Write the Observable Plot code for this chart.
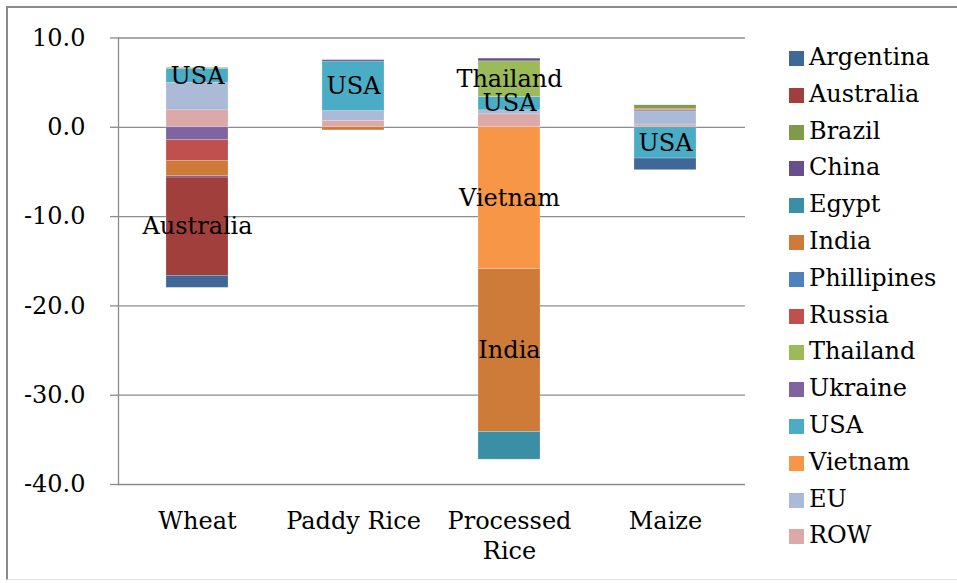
<!DOCTYPE html>
<html>
<head>
<meta charset="utf-8">
<script src="https://cdn.jsdelivr.net/npm/d3@7"></script>
<script src="https://cdn.jsdelivr.net/npm/@observablehq/plot@0.6"></script>
<style>
  html, body { margin: 0; padding: 0; background: #fff; }
  #wrap { position: relative; width: 957px; height: 583px; overflow: hidden; font-family: "DejaVu Serif", serif; }
  #border { position: absolute; left: 6px; top: 6px; width: 1000px; height: 574px; border-top: 2px solid #8a8a8a; border-left: 2px solid #8a8a8a; border-bottom: 1px solid #e0e0e0; box-sizing: border-box; }
  #chart { position: absolute; left: 0; top: 0; }
  #legend { position: absolute; left: 789px; top: 39px; }
  .row { height: 36.8px; line-height: 36.8px; font-size: 24px; color: #000; white-space: nowrap; }
  .sw { display: inline-block; width: 15px; height: 15px; margin-right: 5px; vertical-align: -1px; }
</style>
</head>
<body>
<div id="wrap">
  <div id="border"></div>
  <div id="chart"></div>
  <div id="legend"></div>
</div>
<script>
const categories = ["Wheat", "Paddy Rice", "Processed Rice", "Maize"];
const tickLabels = ["Wheat", "Paddy Rice", "Processed\nRice", "Maize"];
const countries = ["Argentina", "Australia", "Brazil", "China", "Egypt", "India", "Phillipines", "Russia", "Thailand", "Ukraine", "USA", "Vietnam", "EU", "ROW"];
const colors = ["#3F6797", "#A13F3D", "#7F9A48", "#694F8A", "#3A8FA5", "#CE7A38", "#4F81BD", "#C0504D", "#9BBB59", "#8064A2", "#4BACC6", "#F79646", "#AABAD7", "#DBA9A8"];

// values per country: [Wheat, Paddy Rice, Processed Rice, Maize]
const Argentina   = [-1.35, 0, 0, -1.3];
const Australia   = [-11.0, 0, 0, 0];
const Brazil      = [0.1, 0, 0, 0.37];
const China       = [-0.15, 0.15, 0.3, 0];
const Egypt       = [0, 0, -3.1, 0];
const India       = [-1.68, -0.35, -18.25, 0.15];
const Phillipines = [0, 0, 0, 0];
const Russia      = [-2.35, 0, 0, 0];
const Thailand    = [0, 0, 4.0, 0];
const Ukraine     = [-1.45, 0, 0, 0.15];
const USA         = [1.56, 5.55, 1.49, -3.5];
const Vietnam     = [0, 0, -15.87, 0];
const EU          = [3.08, 1.12, 0.45, 1.49];
const ROW         = [1.9, 0.7, 1.45, 0.3];

const yTicks = [10, 0, -10, -20, -30, -40];

const labelled = [
  ["Wheat", "USA"], ["Wheat", "Australia"],
  ["Paddy Rice", "USA"],
  ["Processed Rice", "Thailand"], ["Processed Rice", "USA"], ["Processed Rice", "Vietnam"], ["Processed Rice", "India"],
  ["Maize", "USA"]
];

const series = {Argentina, Australia, Brazil, China, Egypt, India, Phillipines, Russia, Thailand, Ukraine, USA, Vietnam, EU, ROW};
const labelSet = new Set(labelled.map(([c, k]) => c + "|" + k));

// Stack order: last series nearest the zero line (as in the source chart)
const data = [];
categories.forEach((cat, i) => {
  countries.slice().reverse().forEach(k => {
    data.push({category: cat, country: k, value: series[k][i]});
  });
});

const chart = Plot.plot({
  width: 957,
  height: 583,
  marginLeft: 118,
  marginRight: 212,
  marginTop: 37.5,
  marginBottom: 99,
  style: {fontFamily: "DejaVu Serif", fontSize: "24px", color: "#000", background: "transparent", overflow: "visible"},
  x: {domain: categories, paddingInner: 0.6, paddingOuter: 0.3, label: null},
  y: {domain: [-40, 10], label: null},
  color: {domain: countries, range: colors},
  marks: [
    Plot.gridY(yTicks, {stroke: "#8c8c8c", strokeOpacity: 1, strokeWidth: 1.3}),
    Plot.frame({anchor: "left", stroke: "#8c8c8c", strokeWidth: 1.3}),
    Plot.axisY(yTicks, {tickSize: 8, tickPadding: 25, stroke: "#8c8c8c", strokeWidth: 1.3, tickFormat: d => d.toFixed(1), fontSize: 24, label: null}),
    Plot.axisX({tickSize: 0, tickPadding: 23, lineHeight: 1.25, fontSize: 24, tickFormat: (d) => tickLabels[categories.indexOf(d)], label: null}),
    Plot.barY(data, Plot.stackY({x: "category", y: "value", z: "country", fill: "country", stroke: "#fff", strokeOpacity: 0.35, strokeWidth: 0.6})),
    Plot.text(data, Plot.stackY({x: "category", y: "value", z: "country",
      text: d => labelSet.has(d.category + "|" + d.country) ? d.country : "",
      fill: "#000", fontSize: 24}))
  ]
});
document.getElementById("chart").appendChild(chart);

const legend = document.getElementById("legend");
countries.forEach((k, i) => {
  const row = document.createElement("div");
  row.className = "row";
  const sw = document.createElement("span");
  sw.className = "sw";
  sw.style.background = colors[i];
  row.appendChild(sw);
  row.appendChild(document.createTextNode(k));
  legend.appendChild(row);
});
</script>
</body>
</html>
